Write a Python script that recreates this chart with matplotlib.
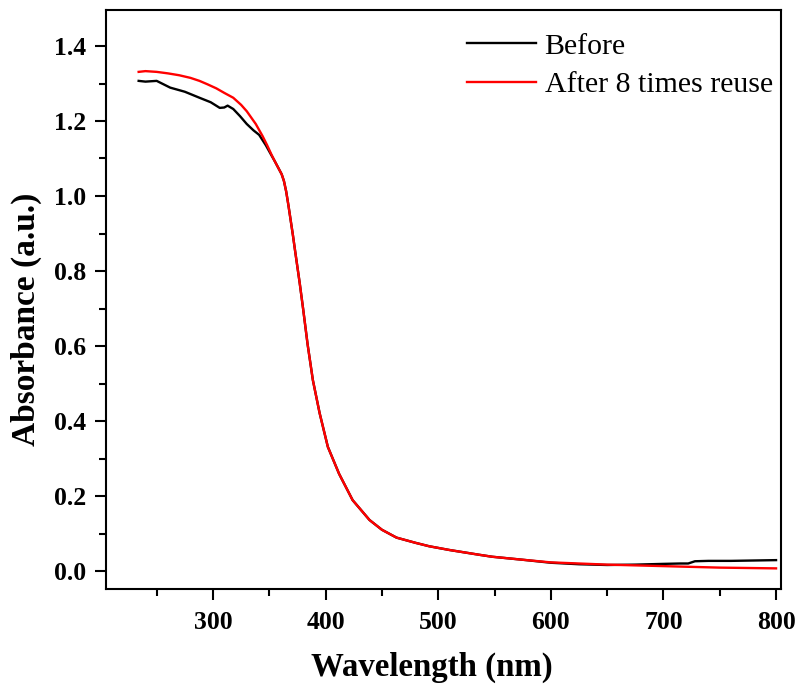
import matplotlib
matplotlib.use('Agg')
import matplotlib.pyplot as plt
from matplotlib.ticker import MultipleLocator, FormatStrFormatter

# wavelength (nm) / absorbance
wl_before = [234, 240, 250, 262, 275, 288, 298, 306, 310, 313, 318, 324, 330, 336, 341,
             347, 352, 355, 358, 361, 363, 365, 367, 369, 371, 373, 375, 377, 380, 384,
             388.7, 394.7, 402, 412, 424, 439, 450, 463, 480, 492, 510, 537, 548, 575,
             600, 625, 650, 675, 700, 715, 722, 728, 740, 760, 780, 800]
abs_before = [1.307, 1.305, 1.307, 1.289, 1.278, 1.262, 1.250, 1.235, 1.236, 1.241, 1.232,
              1.213, 1.192, 1.175, 1.163, 1.135, 1.108, 1.092, 1.075, 1.058, 1.040, 1.012,
              0.975, 0.935, 0.895, 0.852, 0.810, 0.768, 0.700, 0.605, 0.509, 0.421, 0.331,
              0.259, 0.189, 0.136, 0.110, 0.089, 0.075, 0.066, 0.056, 0.043, 0.038, 0.030,
              0.022, 0.018, 0.016, 0.017, 0.019, 0.020, 0.020, 0.026, 0.027, 0.027, 0.028,
              0.029]

wl_after = [234, 240, 250, 260, 270, 280, 288, 295, 303, 310, 318, 325, 330, 338, 344,
            348, 352, 355, 358, 361, 363, 365, 367, 369, 371, 373, 375, 377, 380, 384,
            388.7, 394.7, 402, 412, 424, 439, 450, 463, 480, 492, 510, 537, 548, 575,
            600, 625, 650, 675, 700, 725, 750, 775, 800]
abs_after = [1.331, 1.333, 1.331, 1.327, 1.322, 1.315, 1.307, 1.298, 1.287, 1.275, 1.262,
             1.243, 1.226, 1.192, 1.160, 1.136, 1.110, 1.092, 1.075, 1.058, 1.040, 1.012,
             0.975, 0.935, 0.895, 0.852, 0.810, 0.768, 0.700, 0.605, 0.509, 0.421, 0.331,
             0.259, 0.189, 0.136, 0.110, 0.089, 0.075, 0.066, 0.056, 0.043, 0.038, 0.030,
             0.023, 0.020, 0.017, 0.015, 0.013, 0.011, 0.009, 0.008, 0.007]

plt.rcParams['font.family'] = ['Liberation Serif', 'DejaVu Serif']

fig = plt.figure(figsize=(7.99, 6.85), dpi=100)
ax = fig.add_axes([106 / 799, 96 / 685, 675 / 799, 579 / 685])

ax.plot(wl_before, abs_before, color='black', lw=1.7, label='Before')
ax.plot(wl_after, abs_after, color='red', lw=1.7, label='After 8 times reuse')

ax.set_xlim(205, 804.4)
ax.set_ylim(-0.048, 1.496)
ax.xaxis.set_major_locator(MultipleLocator(100))
ax.xaxis.set_minor_locator(MultipleLocator(50))
ax.yaxis.set_major_locator(MultipleLocator(0.2))
ax.yaxis.set_minor_locator(MultipleLocator(0.1))
ax.yaxis.set_major_formatter(FormatStrFormatter('%.1f'))

for sp in ax.spines.values():
    sp.set_linewidth(1.5)
ax.tick_params(which='major', direction='out', length=8, width=1.5, labelsize=18.5)
ax.tick_params(axis='x', which='major', pad=8)
ax.tick_params(axis='y', which='major', pad=6)
ax.tick_params(which='minor', direction='out', length=5, width=1.5)
for lab in ax.get_xticklabels() + ax.get_yticklabels():
    lab.set_fontweight('bold')

ax.set_xlabel('Wavelength (nm)', fontsize=23.7, fontweight='bold')
ax.set_ylabel('Absorbance (a.u.)', fontsize=24, fontweight='bold')
ax.xaxis.set_label_coords(0.483, -0.108)
ax.yaxis.set_label_coords(-0.095, 0.465)

ax.legend(loc='upper left', bbox_to_anchor=(452 / 799, 1 - 18 / 685),
          bbox_transform=fig.transFigure, frameon=False, fontsize=21.5,
          handlelength=2.3, handletextpad=0.3, labelspacing=0.38, borderpad=0)

fig.savefig('out.png', dpi=100)
